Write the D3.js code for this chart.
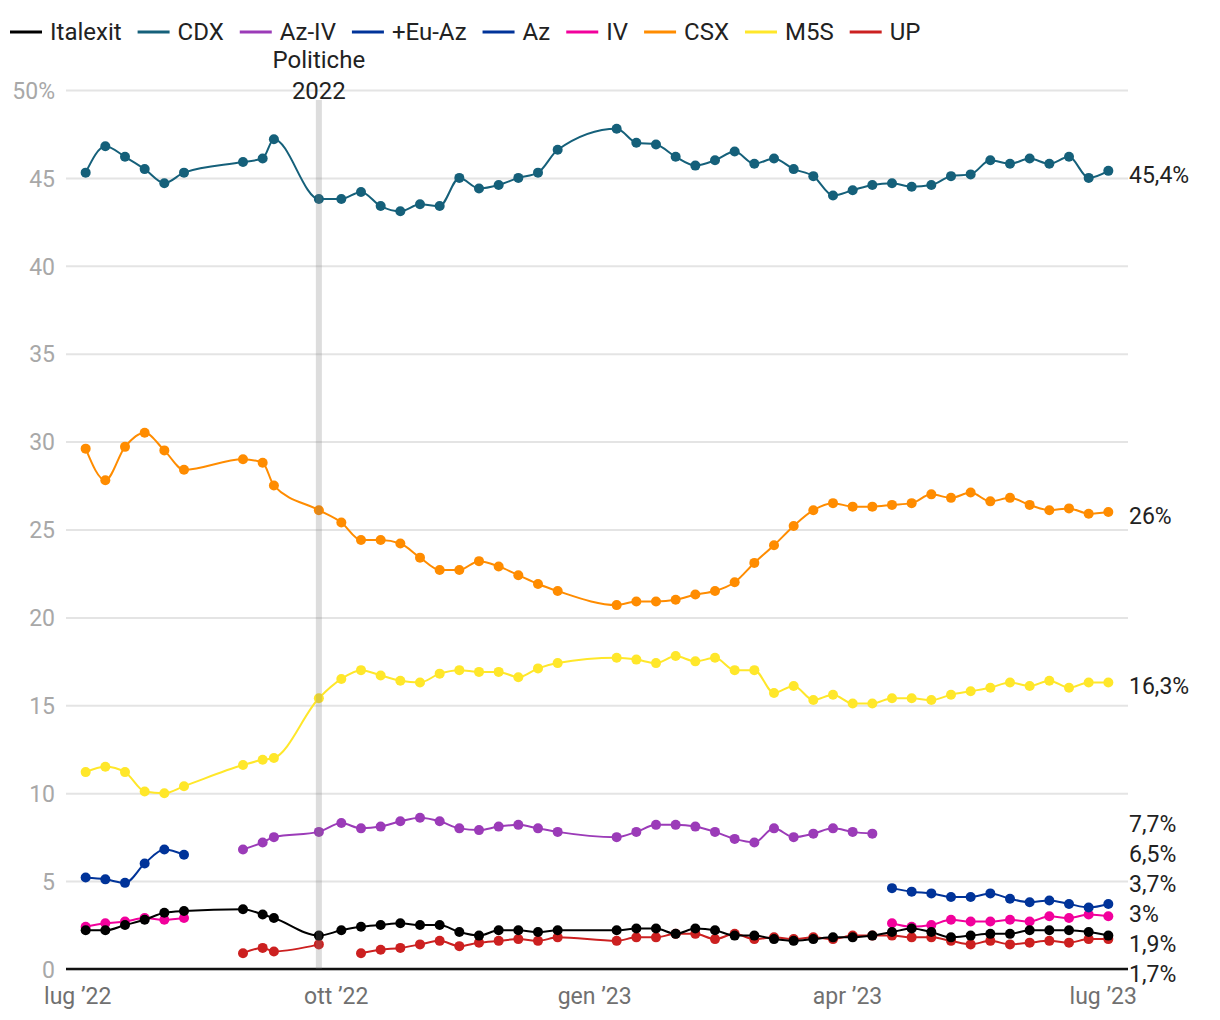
<!DOCTYPE html>
<html><head><meta charset="utf-8">
<script src="https://cdn.jsdelivr.net/npm/d3@7"></script>
<style>
body{margin:0;background:#fff;}
svg{display:block;font-family:Roboto, "Noto Sans", sans-serif;}
</style>
</head><body>
<svg id="chart" width="1220" height="1020"></svg>
<script>
const dates = [
"2022-07-04","2022-07-11","2022-07-18","2022-07-25","2022-08-01","2022-08-08",
"2022-08-29","2022-09-05","2022-09-09","2022-09-25",
"2022-10-03","2022-10-10","2022-10-17","2022-10-24","2022-10-31","2022-11-07","2022-11-14","2022-11-21","2022-11-28","2022-12-05","2022-12-12","2022-12-19",
"2023-01-09","2023-01-16","2023-01-23","2023-01-30","2023-02-06","2023-02-13","2023-02-20","2023-02-27","2023-03-06","2023-03-13","2023-03-20","2023-03-27",
"2023-04-03","2023-04-10","2023-04-17","2023-04-24","2023-05-01","2023-05-08","2023-05-15","2023-05-22","2023-05-29","2023-06-05","2023-06-12","2023-06-19","2023-06-26","2023-07-03"];

const italexit = [2.2,2.2,2.5,2.8,3.2,3.3, 3.4,3.1,2.9,1.9, 2.2,2.4,2.5,2.6,2.5,2.5,2.1,1.9,2.2,2.2,2.1,2.2,
  2.2,2.3,2.3,2.0,2.3,2.2,1.9,1.9,1.7,1.6,1.7,1.8,1.8,1.9,2.1,2.3,2.1,1.8,1.9,2.0,2.0,2.2,2.2,2.2,2.1,1.9];
const cdx = [45.3,46.8,46.2,45.5,44.7,45.3, 45.9,46.1,47.2,43.8, 43.8,44.2,43.4,43.1,43.5,43.4,45.0,44.4,44.6,45.0,45.3,46.6,
  47.8,47.0,46.9,46.2,45.7,46.0,46.5,45.8,46.1,45.5,45.1,44.0,44.3,44.6,44.7,44.5,44.6,45.1,45.2,46.0,45.8,46.1,45.8,46.2,45.0,45.4];
const azIv = [null,null,null,null,null,null, 6.8,7.2,7.5,7.8, 8.3,8.0,8.1,8.4,8.6,8.4,8.0,7.9,8.1,8.2,8.0,7.8,
  7.5,7.8,8.2,8.2,8.1,7.8,7.4,7.2,8.0,7.5,7.7,8.0,7.8,7.7,null,null,null,null,null,null,null,null,null,null,null,null];
const euAz = [5.2,5.1,4.9,6.0,6.8,6.5, null,null,null,null, null,null,null,null,null,null,null,null,null,null,null,null,
  null,null,null,null,null,null,null,null,null,null,null,null,null,null,null,null,null,null,null,null,null,null,null,null,null,null];
const az = [null,null,null,null,null,null, null,null,null,null, null,null,null,null,null,null,null,null,null,null,null,null,
  null,null,null,null,null,null,null,null,null,null,null,null,null,null,4.6,4.4,4.3,4.1,4.1,4.3,4.0,3.8,3.9,3.7,3.5,3.7];
const iv = [2.4,2.6,2.7,2.9,2.8,2.9, null,null,null,null, null,null,null,null,null,null,null,null,null,null,null,null,
  null,null,null,null,null,null,null,null,null,null,null,null,null,null,2.6,2.4,2.5,2.8,2.7,2.7,2.8,2.7,3.0,2.9,3.1,3.0];
const csx = [29.6,27.8,29.7,30.5,29.5,28.4, 29.0,28.8,27.5,26.1, 25.4,24.4,24.4,24.2,23.4,22.7,22.7,23.2,22.9,22.4,21.9,21.5,
  20.7,20.9,20.9,21.0,21.3,21.5,22.0,23.1,24.1,25.2,26.1,26.5,26.3,26.3,26.4,26.5,27.0,26.8,27.1,26.6,26.8,26.4,26.1,26.2,25.9,26.0];
const m5s = [11.2,11.5,11.2,10.1,10.0,10.4, 11.6,11.9,12.0,15.4, 16.5,17.0,16.7,16.4,16.3,16.8,17.0,16.9,16.9,16.6,17.1,17.4,
  17.7,17.6,17.4,17.8,17.5,17.7,17.0,17.0,15.7,16.1,15.3,15.6,15.1,15.1,15.4,15.4,15.3,15.6,15.8,16.0,16.3,16.1,16.4,16.0,16.3,16.3];
const up = [null,null,null,null,null,null, 0.9,1.2,1.0,1.4, null,0.9,1.1,1.2,1.4,1.6,1.3,1.5,1.6,1.7,1.6,1.8,
  1.6,1.8,1.8,2.0,2.0,1.7,2.0,1.7,1.8,1.7,1.8,1.7,1.9,1.9,1.9,1.8,1.8,1.6,1.4,1.6,1.4,1.5,1.6,1.5,1.7,1.7];

const seriesNames  = ["Italexit","CDX","Az-IV","+Eu-Az","Az","IV","CSX","M5S","UP"];
const seriesColors = ["#000000","#15607a","#9b3bb8","#003399","#003399","#f2009c","#ff8c00","#ffe72a","#cc2020"];
const seriesValues = [italexit, cdx, azIv, euAz, az, iv, csx, m5s, up];

const yTicks = [0,5,10,15,20,25,30,35,40,45,50];
const yTickLabels = ["0","5","10","15","20","25","30","35","40","45","50%"];
const xTickDates = ["2022-07-01","2022-10-01","2023-01-01","2023-04-01","2023-07-01"];
const xTickLabels = ["lug ’22","ott ’22","gen ’23","apr ’23","lug ’23"];
const eventDate = "2022-09-25";
const eventLabel = ["Politiche","2022"];
const xDomain = ["2022-06-27","2023-07-10"];

const parse = d3.utcParse("%Y-%m-%d");
const svg = d3.select("#chart");
const L = 66, R = 1128, T = 90, B = 969;

const x = d3.scaleUtc().domain(xDomain.map(parse)).range([L, R]);
const y = d3.scaleLinear().domain([0, 50]).range([B, T]);

// y axis + gridlines
const yAxis = svg.append("g").attr("transform", `translate(${L},0)`)
  .call(d3.axisLeft(y).tickValues(yTicks).tickSize(-(R - L)).tickPadding(11)
    .tickFormat((d, i) => yTickLabels[i]));
yAxis.select(".domain").remove();
yAxis.selectAll(".tick line").attr("stroke", "#e4e4e4").attr("stroke-width", 2);
yAxis.selectAll(".tick text").attr("fill", "#a8a8a8").attr("font-size", 23)
  .attr("font-family", "Roboto").attr("dy", "0.36em");

// x axis
const xAxis = svg.append("g").attr("transform", `translate(0,${B})`)
  .call(d3.axisBottom(x).tickValues(xTickDates.map(parse)).tickSize(0).tickPadding(19)
    .tickFormat((d, i) => xTickLabels[i]));
xAxis.select(".domain").remove();
xAxis.selectAll(".tick text").attr("fill", "#707070").attr("font-size", 23).attr("font-family", "Roboto");

// baseline
svg.append("line").attr("x1", L).attr("x2", R).attr("y1", y(0)).attr("y2", y(0))
  .attr("stroke", "#111").attr("stroke-width", 2.5);

// series
const line = d3.line()
  .defined(d => d.v != null)
  .x(d => x(d.date)).y(d => y(d.v))
  .curve(d3.curveMonotoneX);

const order = d3.range(seriesNames.length).reverse();
order.forEach(i => {
  const data = dates.map((d, j) => ({date: parse(d), v: seriesValues[i][j]}));
  const g = svg.append("g");
  g.append("path").attr("d", line(data)).attr("fill", "none")
    .attr("stroke", seriesColors[i]).attr("stroke-width", 2);
  g.selectAll("circle").data(data.filter(d => d.v != null)).join("circle")
    .attr("cx", d => x(d.date)).attr("cy", d => y(d.v)).attr("r", 5)
    .attr("fill", seriesColors[i]);
});

// event band (on top, translucent)
const ex = x(parse(eventDate));
svg.append("rect").attr("x", ex - 3).attr("width", 6)
  .attr("y", T + 10).attr("height", B - T - 10)
  .attr("fill", "#797979").attr("opacity", 0.25);
svg.append("text").attr("x", ex).attr("y", 68).attr("text-anchor", "middle")
  .attr("font-size", 24).attr("fill", "#222").text(eventLabel[0]);
svg.append("text").attr("x", ex).attr("y", 99).attr("text-anchor", "middle")
  .attr("font-size", 24).attr("fill", "#222").text(eventLabel[1]);

// end labels with dodge
const fmt = v => String(v).replace(".", ",") + "%";
const labels = seriesValues.map((vals, i) => {
  const last = vals.filter(v => v != null).slice(-1)[0];
  return {v: last, c: y(last) + 4};
}).filter((d, i, arr) => arr.findIndex(e => e.v === d.v) === i);
labels.sort((a, b) => a.c - b.c);
const gap = 30, bound = y(0) + 5;
for (let k = 1; k < labels.length; k++) labels[k].c = Math.max(labels[k].c, labels[k-1].c + gap);
labels[labels.length - 1].c = Math.min(labels[labels.length - 1].c, bound);
for (let k = labels.length - 2; k >= 0; k--) labels[k].c = Math.min(labels[k].c, labels[k+1].c - gap);
svg.append("g").selectAll("text").data(labels).join("text")
  .attr("x", R + 1).attr("y", d => d.c + 8)
  .attr("font-size", 23).attr("fill", "#222").text(d => fmt(d.v));

// legend
const lg = svg.append("g");
let lx = 10;
seriesNames.forEach((n, i) => {
  lg.append("line").attr("x1", lx).attr("x2", lx + 32).attr("y1", 32).attr("y2", 32)
    .attr("stroke", seriesColors[i]).attr("stroke-width", 3);
  const t = lg.append("text").attr("x", lx + 40).attr("y", 40)
    .attr("font-size", 24).attr("fill", "#222").text(n);
  lx += 40 + t.node().getComputedTextLength() + 16;
});
</script>
</body></html>
